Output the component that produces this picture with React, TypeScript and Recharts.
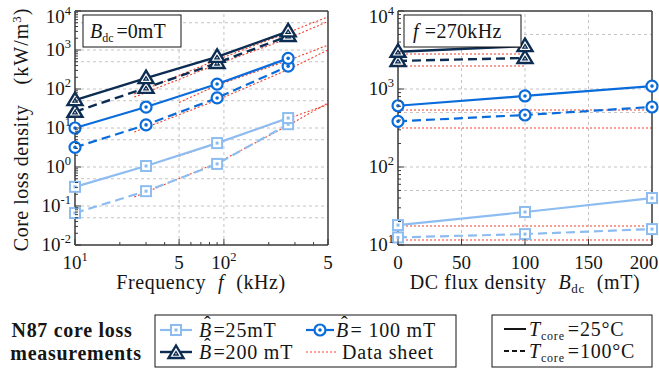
import { LineChart, Line, XAxis, YAxis, ReferenceLine } from 'recharts';

const FONT = '"Liberation Serif", "Times New Roman", serif';
const INK = '#151515';
const FRAME = '#3a3a3a';
const GRID = '#c4c4c4';

const LIGHT = '#8dbdf0';
const MID = '#0a6cdb';
const NAVY = '#0c2c52';
const SHEET = '#f0402a';

// frequency sweep at B_dc = 0 mT  (kHz -> kW/m^3)
const freqs = [10, 30, 90, 270];
const loss25mT25C = [0.31, 1.06, 4.1, 18];
const loss25mT100C = [0.066, 0.24, 1.2, 12.5];
const loss100mT25C = [10, 34.5, 134, 610];
const loss100mT100C = [3.2, 12, 59, 385];
const loss200mT25C = [52, 190, 665, 3000];
const loss200mT100C = [26, 107, 464, 2290];

// data sheet curves, frequency sweep
const sheetFreqs = [25, 90, 270, 500];
const sheetFreqsLate = [50, 90, 270, 500];
const sheet25mT25C = [1.9, 4.1, 17.5, 40];
const sheet25mT100C = [0.17, 1.27, 11.6, 44];
const sheet100mT25C = [45, 125, 538, 1340];
const sheet100mT100C = [7.9, 52, 316, 1000];
const sheet200mT25C = [75, 560, 2810, 7100];
const sheet200mT100C = [62, 430, 1970, 5400];

// DC bias sweep at f = 270 kHz  (mT -> kW/m^3)
const bdc = [0, 100, 200];
const bdcShort = [0, 100];
const dc25mT25C = [18, 26.5, 40];
const dc25mT100C = [12.5, 13.8, 16];
const dc100mT25C = [610, 814, 1090];
const dc100mT100C = [385, 464, 588];
const dc200mT25C = [3000, 3550];
const dc200mT100C = [2290, 2500];

// data sheet values at 270 kHz (no DC bias), drawn flat
const sheetDc25mT25C = [17.5, 17.5, 17.5];
const sheetDc25mT100C = [11.6, 11.6, 11.6];
const sheetDc100mT25C = [538, 538, 538];
const sheetDc100mT100C = [316, 316, 316];
const sheetDc200mT25C = [2810, 2810];
const sheetDc200mT100C = [1970, 1970];

// axes
const leftYLabels = [
  { v: 0.01, base: '10', exp: '-2' },
  { v: 0.1, base: '10', exp: '-1' },
  { v: 1, base: '10', exp: '0' },
  { v: 10, base: '10', exp: '1' },
  { v: 100, base: '10', exp: '2' },
  { v: 1000, base: '10', exp: '3' },
  { v: 10000, base: '10', exp: '4' },
];
const leftXLabels = [
  { v: 10, base: '10', exp: '1' },
  { v: 50, base: '5' },
  { v: 100, base: '10', exp: '2' },
  { v: 500, base: '5' },
];
const rightYLabels = [
  { v: 10, base: '10', exp: '1' },
  { v: 100, base: '10', exp: '2' },
  { v: 1000, base: '10', exp: '3' },
  { v: 10000, base: '10', exp: '4' },
];
const rightXLabels = [
  { v: 0, base: '0' },
  { v: 50, base: '50' },
  { v: 100, base: '100' },
  { v: 150, base: '150' },
  { v: 200, base: '200' },
];
const leftGridY = [0.05, 0.1, 0.5, 1, 5, 10, 50, 100, 500, 1000, 5000];
const leftGridX = [50, 100];
const rightGridY = [50, 100, 500, 1000, 5000];
const rightGridX = [50, 100, 150];

const logTicks = (decades: number[], max: number) => {
  const out: number[] = [];
  decades.forEach((d, i) => {
    out.push(d);
    if (i < decades.length - 1) for (let k = 2; k < 10; k++) out.push(d * k);
  });
  return out.filter((v) => v <= max * 1.0001);
};

const leftYTicks = logTicks([0.01, 0.1, 1, 10, 100, 1000, 10000], 10000);
const leftXTicks = logTicks([10, 100, 1000], 500);
const rightYTicks = logTicks([10, 100, 1000, 10000], 10000);
const rightXTicks = [0, 50, 100, 150, 200];

const zip = (xs: number[], ys: number[]) => xs.map((x, i) => ({ x, y: ys[i] }));

const AxisTick = ({ x, y, payload, side, labels, showText, maxX }: any) => {
  const v = payload.value;
  const lab = labels.find((l: any) => Math.abs(l.v - v) <= 1e-9 * Math.max(1, Math.abs(v)));
  const len = lab ? 6 : 3;
  let line;
  if (side === 'left') line = <line x1={x} x2={x + len} y1={y} y2={y} />;
  else if (side === 'right') line = <line x1={x} x2={x - len} y1={y} y2={y} />;
  else if (side === 'bottom') line = <line x1={x} x2={x} y1={y} y2={y - len} />;
  else line = <line x1={x} x2={x} y1={y} y2={y + len} />;
  let txt = null;
  if (showText && lab) {
    const sup = lab.exp ? (
      <tspan dy={-8} fontSize={12.5}>
        {lab.exp}
      </tspan>
    ) : null;
    if (side === 'left')
      txt = (
        <text
          x={x - 4}
          y={Math.max(y, 17) + 6}
          textAnchor="end"
          fontSize={19}
          fontFamily={FONT}
          fill={INK}
        >
          {lab.base}
          {sup}
        </text>
      );
    else
      txt = (
        <text
          x={maxX ? Math.min(x, maxX) : x}
          y={y + 24}
          textAnchor="middle"
          fontSize={19}
          fontFamily={FONT}
          fill={INK}
        >
          {lab.base}
          {sup}
        </text>
      );
  }
  return (
    <g>
      <g stroke={FRAME} strokeWidth={1}>{line}</g>
      {txt}
    </g>
  );
};

const drawSquare = (cx: number, cy: number, color: string, key?: any) => (
  <g key={key}>
    <rect x={cx - 5} y={cy - 5} width={10} height={10} fill="#fff" stroke={color} strokeWidth={2} />
    <rect x={cx - 1.5} y={cy - 1.5} width={3} height={3} fill={color} />
  </g>
);
const drawCircle = (cx: number, cy: number, color: string, key?: any) => (
  <g key={key}>
    <circle cx={cx} cy={cy} r={5.5} fill="#fff" stroke={color} strokeWidth={2.2} />
    <circle cx={cx} cy={cy} r={1.8} fill={color} />
  </g>
);
const drawTriangle = (cx: number, cy: number, color: string, key?: any) => (
  <g key={key}>
    <polygon
      points={`${cx},${cy - 7.5} ${cx - 7.5},${cy + 5} ${cx + 7.5},${cy + 5}`}
      fill="#fff"
      stroke={color}
      strokeWidth={2.4}
      strokeLinejoin="miter"
    />
    <polygon
      points={`${cx},${cy - 1.5} ${cx - 2.2},${cy + 2} ${cx + 2.2},${cy + 2}`}
      fill="#fff"
      stroke={color}
      strokeWidth={1.3}
    />
  </g>
);

const dotFn = (draw: any, color: string) => (p: any) =>
  p.cx == null || p.cy == null ? <g key={p.index} /> : draw(p.cx, p.cy, color, p.index);

const series = (
  key: string,
  data: any[],
  color: string,
  width: number,
  dashed: boolean,
  draw: any
) => (
  <Line
    key={key}
    xAxisId="b"
    yAxisId="l"
    data={data}
    dataKey="y"
    type="linear"
    stroke={color}
    strokeWidth={width}
    strokeDasharray={dashed ? '9 5' : undefined}
    dot={draw ? dotFn(draw, color) : false}
    activeDot={false}
    isAnimationActive={false}
  />
);

const sheetLine = (key: string, data: any[]) => (
  <Line
    key={key}
    xAxisId="b"
    yAxisId="l"
    data={data}
    dataKey="y"
    type="linear"
    stroke={SHEET}
    strokeWidth={1.1}
    strokeDasharray="2 2"
    dot={false}
    activeDot={false}
    isAnimationActive={false}
  />
);

// axes are 1px thick so recharts still draws them; margins account for it
const axes = (xProps: any, yProps: any, xLabels: any[], yLabels: any[], maxX?: number) => [
  <XAxis
    key="xb"
    xAxisId="b"
    orientation="bottom"
    height={1}
    tickSize={0}
    tickMargin={0}
    interval={0}
    axisLine={{ stroke: FRAME, strokeWidth: 1.5 }}
    tickLine={false}
    tick={<AxisTick side="bottom" labels={xLabels} showText maxX={maxX} />}
    {...xProps}
  />,
  <XAxis
    key="xt"
    xAxisId="t"
    orientation="top"
    height={1}
    tickSize={0}
    tickMargin={0}
    interval={0}
    axisLine={{ stroke: FRAME, strokeWidth: 1.5 }}
    tickLine={false}
    tick={<AxisTick side="top" labels={xLabels} />}
    {...xProps}
  />,
  <YAxis
    key="yl"
    yAxisId="l"
    orientation="left"
    width={1}
    tickSize={0}
    tickMargin={0}
    interval={0}
    axisLine={{ stroke: FRAME, strokeWidth: 1.5 }}
    tickLine={false}
    tick={<AxisTick side="left" labels={yLabels} showText />}
    {...yProps}
  />,
  <YAxis
    key="yr"
    yAxisId="r"
    orientation="right"
    width={1}
    tickSize={0}
    tickMargin={0}
    interval={0}
    axisLine={{ stroke: FRAME, strokeWidth: 1.5 }}
    tickLine={false}
    tick={<AxisTick side="right" labels={yLabels} />}
    {...yProps}
  />,
];

const grid = (ys: number[], xs: number[]) => [
  ...ys.map((v) => (
    <ReferenceLine key={`gy${v}`} xAxisId="b" yAxisId="l" y={v} stroke={GRID} strokeDasharray="3 3" />
  )),
  ...xs.map((v) => (
    <ReferenceLine key={`gx${v}`} xAxisId="b" yAxisId="l" x={v} stroke={GRID} strokeDasharray="3 3" />
  )),
];

function FreqChart() {
  return (
    <LineChart
      width={340}
      height={300}
      margin={{ top: 10, right: 11, bottom: 54, left: 74 }}
      style={{ overflow: 'visible' }}
    >
      {axes(
        { type: 'number', dataKey: 'x', scale: 'log', domain: [10, 500], ticks: leftXTicks },
        { type: 'number', dataKey: 'y', scale: 'log', domain: [0.01, 10000], ticks: leftYTicks },
        leftXLabels,
        leftYLabels
      )}
      {grid(leftGridY, leftGridX)}
      {sheetLine('s1', zip(sheetFreqsLate, sheet25mT25C))}
      {sheetLine('s2', zip(sheetFreqs, sheet25mT100C))}
      {sheetLine('s3', zip(sheetFreqsLate, sheet100mT25C))}
      {sheetLine('s4', zip(sheetFreqs, sheet100mT100C))}
      {sheetLine('s5', zip(sheetFreqs, sheet200mT25C))}
      {sheetLine('s6', zip(sheetFreqs, sheet200mT100C))}
      {series('a1', zip(freqs, loss25mT100C), LIGHT, 2.2, true, drawSquare)}
      {series('a2', zip(freqs, loss25mT25C), LIGHT, 2.2, false, drawSquare)}
      {series('a3', zip(freqs, loss100mT100C), MID, 2.2, true, drawCircle)}
      {series('a4', zip(freqs, loss100mT25C), MID, 2.2, false, drawCircle)}
      {series('a5', zip(freqs, loss200mT100C), NAVY, 2.4, true, drawTriangle)}
      {series('a6', zip(freqs, loss200mT25C), NAVY, 2.4, false, drawTriangle)}
    </LineChart>
  );
}

function DcChart() {
  return (
    <LineChart
      width={319}
      height={300}
      margin={{ top: 10, right: 6, bottom: 54, left: 57 }}
      style={{ overflow: 'visible' }}
    >
      {axes(
        { type: 'number', dataKey: 'x', domain: [0, 200], ticks: rightXTicks },
        { type: 'number', dataKey: 'y', scale: 'log', domain: [10, 10000], ticks: rightYTicks },
        rightXLabels,
        rightYLabels,
        304
      )}
      {grid(rightGridY, rightGridX)}
      {sheetLine('d1', zip(bdc, sheetDc25mT25C))}
      {sheetLine('d2', zip(bdc, sheetDc25mT100C))}
      {sheetLine('d3', zip(bdc, sheetDc100mT25C))}
      {sheetLine('d4', zip(bdc, sheetDc100mT100C))}
      {sheetLine('d5', zip(bdcShort, sheetDc200mT25C))}
      {sheetLine('d6', zip(bdcShort, sheetDc200mT100C))}
      {series('b1', zip(bdc, dc25mT100C), LIGHT, 2.2, true, drawSquare)}
      {series('b2', zip(bdc, dc25mT25C), LIGHT, 2.2, false, drawSquare)}
      {series('b3', zip(bdc, dc100mT100C), MID, 2.2, true, drawCircle)}
      {series('b4', zip(bdc, dc100mT25C), MID, 2.2, false, drawCircle)}
      {series('b5', zip(bdcShort, dc200mT100C), NAVY, 2.4, true, drawTriangle)}
      {series('b6', zip(bdcShort, dc200mT25C), NAVY, 2.4, false, drawTriangle)}
    </LineChart>
  );
}

// italic B with a hat, followed by the rest of the label
const Bhat = ({ rest }: { rest: string }) => (
  <>
    <tspan fontStyle="italic">B</tspan>
    <tspan dx={-8} dy={-6}>
      ˆ
    </tspan>
    <tspan dx={2} dy={6}>
      {rest}
    </tspan>
  </>
);

const LEG = { fontSize: 20, letterSpacing: 0.8 };

function Overlay() {
  return (
    <svg
      width={659}
      height={373}
      style={{ position: 'absolute', left: 0, top: 0, pointerEvents: 'none' }}
      fontFamily={FONT}
      fill={INK}
    >
      {/* axis titles */}
      <text transform="translate(28,178) rotate(-90)" textAnchor="middle" fontSize={20} letterSpacing={0.5}>
        Core loss density
      </text>
      <text transform="translate(28,46) rotate(-90)" textAnchor="middle" fontSize={20} letterSpacing={1}>
        (kW/m
        <tspan dy={-7} fontSize={13}>
          3
        </tspan>
        <tspan dy={7}>)</tspan>
      </text>
      <text x={201} y={289} textAnchor="middle" fontSize={20} letterSpacing={0.6}>
        Frequency
        <tspan dx={12} fontStyle="italic">
          f
        </tspan>
        <tspan dx={12}>(kHz)</tspan>
      </text>
      <text x={525} y={289} textAnchor="middle" fontSize={20} letterSpacing={0.6}>
        DC flux density
        <tspan dx={12} fontStyle="italic">
          B
        </tspan>
        <tspan dy={4} fontSize={13}>
          dc
        </tspan>
        <tspan dx={12} dy={-4}>
          (mT)
        </tspan>
      </text>

      {/* condition boxes */}
      <rect x={83} y={15} width={98} height={32} fill="#fff" stroke={INK} strokeWidth={1} />
      <text x={90} y={38} fontSize={20}>
        <tspan fontStyle="italic">B</tspan>
        <tspan dy={4} fontSize={12}>
          dc
        </tspan>
        <tspan dx={3} dy={-4}>
          =0mT
        </tspan>
      </text>
      <rect x={404} y={15} width={117} height={32} fill="#fff" stroke={INK} strokeWidth={1} />
      <text x={413} y={38} fontSize={20} letterSpacing={0.3}>
        <tspan fontStyle="italic">f</tspan>
        <tspan dx={6}>=270kHz</tspan>
      </text>

      {/* legend */}
      <text x={72} y={337} textAnchor="middle" fontSize={20} fontWeight="bold" letterSpacing={0.7}>
        N87 core loss
      </text>
      <text x={76} y={360} textAnchor="middle" fontSize={20} fontWeight="bold" letterSpacing={0.7}>
        measurements
      </text>

      <rect x={155} y={315} width={301} height={52} fill="#fff" stroke={INK} strokeWidth={1} />
      <line x1={160} x2={192} y1={330} y2={330} stroke={LIGHT} strokeWidth={2.2} />
      {drawSquare(176, 330, LIGHT)}
      <text x={199} y={337} {...LEG}>
        <Bhat rest="=25mT" />
      </text>
      <line x1={160} x2={192} y1={352} y2={352} stroke={NAVY} strokeWidth={2.4} />
      {drawTriangle(176, 353, NAVY)}
      <text x={199} y={359} {...LEG}>
        <Bhat rest="=200 mT" />
      </text>
      <line x1={306} x2={334} y1={330} y2={330} stroke={MID} strokeWidth={2.2} />
      {drawCircle(320, 330, MID)}
      <text x={336} y={337} {...LEG}>
        <Bhat rest="= 100 mT" />
      </text>
      <line x1={306} x2={337} y1={352} y2={352} stroke={SHEET} strokeWidth={1.1} strokeDasharray="2 2" />
      <text x={342} y={359} {...LEG}>
        Data sheet
      </text>

      <rect x={492} y={315} width={160} height={52} fill="#fff" stroke={INK} strokeWidth={1} />
      <line x1={504} x2={526} y1={329} y2={329} stroke={INK} strokeWidth={2} />
      <text x={529} y={336} {...LEG}>
        <tspan fontStyle="italic">T</tspan>
        <tspan dy={4} fontSize={12}>
          core
        </tspan>
        <tspan dx={3} dy={-4}>
          =25°C
        </tspan>
      </text>
      <line x1={504} x2={526} y1={351} y2={351} stroke={INK} strokeWidth={2} strokeDasharray="5 3" />
      <text x={529} y={358} {...LEG}>
        <tspan fontStyle="italic">T</tspan>
        <tspan dy={4} fontSize={12}>
          core
        </tspan>
        <tspan dx={3} dy={-4}>
          =100°C
        </tspan>
      </text>
    </svg>
  );
}

export default function App() {
  return (
    <div style={{ position: 'absolute', left: 0, top: 0, width: 659, height: 373, background: '#fff', overflow: 'hidden' }}>
      <div style={{ position: 'absolute', left: 0, top: 0 }}>
        <FreqChart />
      </div>
      <div style={{ position: 'absolute', left: 340, top: 0 }}>
        <DcChart />
      </div>
      <Overlay />
    </div>
  );
}
